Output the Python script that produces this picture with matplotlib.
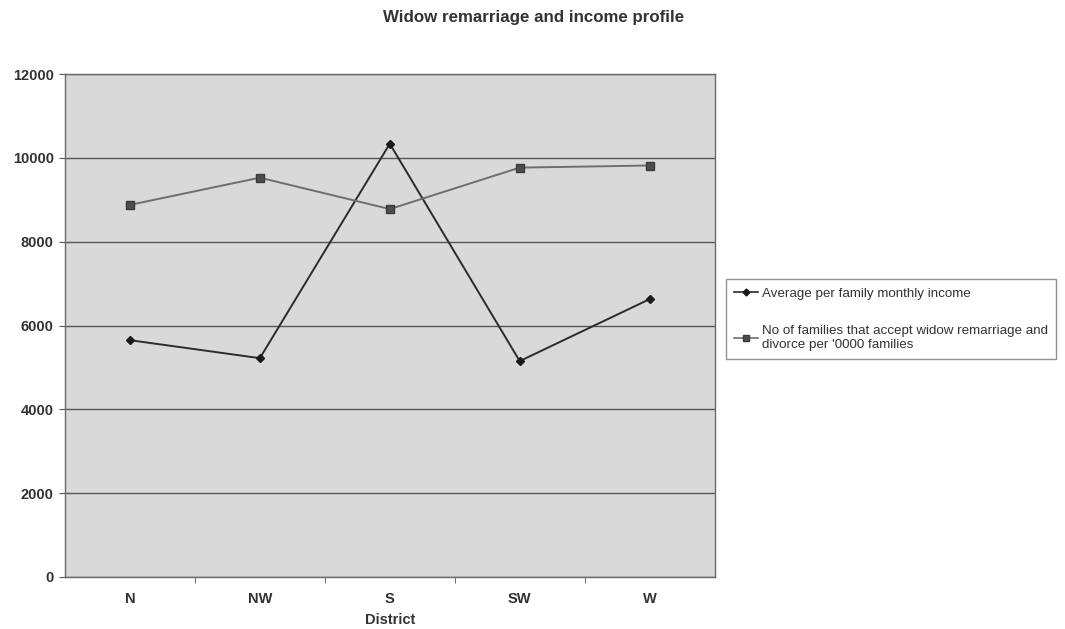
import matplotlib
matplotlib.use("Agg")
import matplotlib.pyplot as plt
from matplotlib.lines import Line2D

districts = ["N", "NW", "S", "SW", "W"]
avg_income = [5650, 5220, 10340, 5150, 6630]
accept_remarriage = [8880, 9530, 8780, 9770, 9820]
y_ticks = [0, 2000, 4000, 6000, 8000, 10000, 12000]

plt.rcParams["font.family"] = ["Liberation Sans", "DejaVu Sans"]

fig = plt.figure(figsize=(10.65, 6.29), dpi=100)
ax = fig.add_axes([0.061, 0.083, 0.610, 0.799])
ax.set_facecolor("#d9d9d9")

x = list(range(len(districts)))
ax.plot(x, avg_income, color="#2b2b2b", lw=1.4, marker="D", ms=4.5,
        mfc="#1a1a1a", mec="#1a1a1a", zorder=3)
ax.plot(x, accept_remarriage, color="#6e6e6e", lw=1.4, marker="s", ms=5.5,
        mfc="#4d4d4d", mec="#3a3a3a", zorder=3)

ax.set_xlim(-0.5, len(districts) - 0.5)
ax.set_ylim(0, 12000)
ax.set_yticks(y_ticks)
ax.set_yticklabels([str(v) for v in y_ticks], fontsize=10.5, fontweight="bold",
                   color="#333333")
ax.set_xticks(x)
ax.set_xticklabels(districts, fontsize=10.5, fontweight="bold", color="#333333")
ax.set_xticks([i + 0.5 for i in x[:-1]], minor=True)
ax.tick_params(axis="x", which="major", length=0, pad=11)
ax.tick_params(axis="x", which="minor", length=4, color="#555555")
ax.tick_params(axis="y", length=4, color="#555555", pad=4)

ax.grid(axis="y", color="#555555", lw=1.0)
ax.set_axisbelow(True)
for side in ax.spines.values():
    side.set_color("#6a6a6a")
    side.set_linewidth(1.0)

ax.set_xlabel("District", fontsize=10.5, fontweight="bold", color="#333333",
              labelpad=5)
fig.text(0.501, 0.972, "Widow remarriage and income profile", ha="center",
         va="center", fontsize=12.2, fontweight="bold", color="#333333")

handles = [
    Line2D([], [], color="#2b2b2b", lw=1.2, marker="D", ms=3.5,
           mfc="#1a1a1a", mec="#1a1a1a"),
    Line2D([], [], color="#6e6e6e", lw=1.2, marker="s", ms=4.5,
           mfc="#4d4d4d", mec="#3a3a3a"),
]
labels = [
    "Average per family monthly income",
    "No of families that accept widow remarriage and\ndivorce per '0000 families",
]
leg = fig.legend(handles, labels, loc="upper left",
                 bbox_to_anchor=(0.679, 0.560), frameon=True,
                 fancybox=False, edgecolor="#777777", handlelength=1.8,
                 handletextpad=0.3, labelspacing=1.9, borderpad=0.6,
                 borderaxespad=0.2, prop={"weight": "normal", "size": 9.6})
for t in leg.get_texts():
    t.set_color("#333333")

fig.savefig("out.png", dpi=100, facecolor="white")
